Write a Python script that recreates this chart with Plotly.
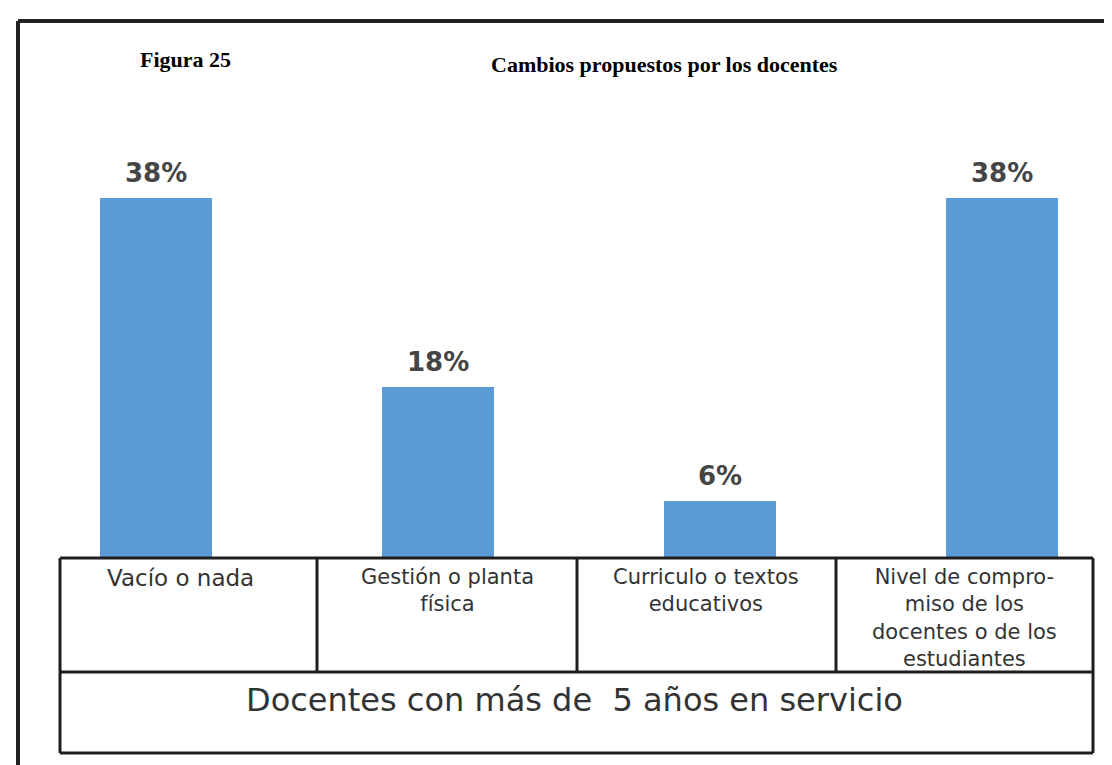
import plotly.graph_objects as go

# ---- data ----
categories = ["Vacío o nada", "Gestión o planta física", "Currículo o textos educativos",
              "Nivel de compromiso de los docentes o de los estudiantes"]
cell_labels = ["Vacío o nada", "Gestión o planta<br>física", "Curriculo o textos<br>educativos",
               "Nivel de compro-<br>miso de los<br>docentes o de los<br>estudiantes"]
values = [38, 18, 6, 38]
value_labels = ["38%", "18%", "6%", "38%"]
group_label = "Docentes con más de  5 años en servicio"
fig_label = "Figura 25"
title_text = "Cambios propuestos por los docentes"

W, H = 1112, 765

def px(x):
    return x / W

def py(y):
    return 1 - y / H

fig = go.Figure()
fig.add_trace(go.Bar(
    x=categories, y=values, width=0.40,
    marker=dict(color="#5B9BD5", line=dict(width=0)),
    hoverinfo="skip", showlegend=False,
))

annotations = []
for c, v, t in zip(categories, values, value_labels):
    annotations.append(dict(
        x=c, y=v, xref="x", yref="y", text="<b>" + t + "</b>", showarrow=False,
        yanchor="bottom", yshift=8,
        font=dict(family="DejaVu Sans", size=26, color="#454545"),
    ))

# table geometry (pixels)
xs = [52, 309, 569, 828, 1085]
y_top, y_mid, y_bot = 550, 664, 745
line = dict(color="#1e1e1e", width=3)
shapes = []
# outer frame (extends off canvas to the right and bottom)
shapes.append(dict(type="line", xref="paper", yref="paper", x0=px(10), x1=px(1200),
                   y0=py(13), y1=py(13), line=dict(color="#222", width=4)))
shapes.append(dict(type="line", xref="paper", yref="paper", x0=px(10), x1=px(10),
                   y0=py(13), y1=py(800), line=dict(color="#222", width=4)))
# table lines
for yy in (y_top, y_mid, y_bot):
    shapes.append(dict(type="line", xref="paper", yref="paper", x0=px(xs[0]), x1=px(xs[-1]),
                       y0=py(yy), y1=py(yy), line=line))
for i, xx in enumerate(xs):
    ye = y_bot if i in (0, len(xs) - 1) else y_mid
    shapes.append(dict(type="line", xref="paper", yref="paper", x0=px(xx), x1=px(xx),
                       y0=py(y_top), y1=py(ye), line=line))

cell_centers = [172, 439, 698, 956]
for i, lab in enumerate(cell_labels):
    size = 23 if i == 0 else 21
    annotations.append(dict(
        x=px(cell_centers[i]), y=py(y_top + 5), xref="paper", yref="paper", text=lab,
        showarrow=False, xanchor="center", yanchor="top", align="center",
        font=dict(family="DejaVu Sans", size=size, color="#333333"),
    ))

annotations.append(dict(
    x=px(566), y=py(692), xref="paper", yref="paper", text=group_label, showarrow=False,
    xanchor="center", yanchor="middle",
    font=dict(family="DejaVu Sans", size=32, color="#333333"),
))
annotations.append(dict(
    x=px(177), y=py(52), xref="paper", yref="paper", text="<b>" + fig_label + "</b>",
    showarrow=False, xanchor="center", yanchor="middle",
    font=dict(family="Liberation Serif", size=22, color="#000000"),
))
annotations.append(dict(
    x=px(656), y=py(57), xref="paper", yref="paper", text="<b>" + title_text + "</b>",
    showarrow=False, xanchor="center", yanchor="middle",
    font=dict(family="Liberation Serif", size=22, color="#000000"),
))

# axis ranges so bar centres fall at ~148, 430, 711, 994 px and baseline at y=550
unit = 282.0
x0 = -148 / unit
x1 = x0 + W / unit
ppu = 360 / 38.0
y1 = 550 / ppu
y0 = -(H - 550) / ppu

fig.update_layout(
    width=W, height=H, margin=dict(l=0, r=0, t=0, b=0),
    paper_bgcolor="white", plot_bgcolor="white",
    xaxis=dict(type="category", range=[x0, x1], visible=False, fixedrange=True),
    yaxis=dict(range=[y0, y1], visible=False, fixedrange=True),
    shapes=shapes, annotations=annotations, bargap=0,
)

fig.write_html("out.html")
